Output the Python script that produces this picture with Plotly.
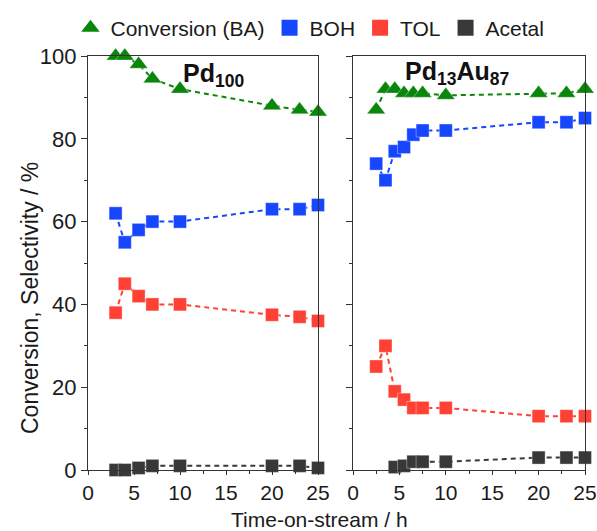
import plotly.graph_objects as go

# ---- data ----
t_pd100 = [3, 4, 5.5, 7, 10, 20, 23, 25]
conv_pd100 = [100, 100, 98, 94.5, 92, 88, 87, 86.5]
boh_pd100 = [62, 55, 58, 60, 60, 63, 63, 64]
tol_pd100 = [38, 45, 42, 40, 40, 37.5, 37, 36]
acetal_pd100 = [0, 0, 0.5, 1, 1, 1, 1, 0.5]

t_pdau = [2.5, 3.5, 4.5, 5.5, 6.5, 7.5, 10, 20, 23, 25]
conv_pdau = [87, 92, 92, 91, 91, 91, 90.5, 91, 91, 92]
boh_pdau = [74, 70, 77, 78, 81, 82, 82, 84, 84, 85]
tol_pdau = [25, 30, 19, 17, 15, 15, 15, 13, 13, 13]
acetal_pdau = [None, None, 0.7, 1, 2, 2, 2, 3, 3, 3]

series_names = ["Conversion (BA)", "BOH", "TOL", "Acetal"]
colors = ["#0a860a", "#1746ff", "#ff4034", "#383838"]
symbols = ["triangle-up", "square", "square", "square"]
panel_labels = ["<b>Pd<sub>100</sub></b>", "<b>Pd<sub>13</sub>Au<sub>87</sub></b>"]
x_ticks = [0, 5, 10, 15, 20, 25]
y_ticks = [0, 20, 40, 60, 80, 100]

W, H = 597, 531
FONT = "Liberation Sans, Arial, sans-serif"
fig = go.Figure()

panels = [
    (t_pd100, [conv_pd100, boh_pd100, tol_pd100, acetal_pd100], "x", "y"),
    (t_pdau, [conv_pdau, boh_pdau, tol_pdau, acetal_pdau], "x2", "y2"),
]
for t, ys, xa, ya in panels:
    for name, y, c, s in zip(series_names, ys, colors, symbols):
        fig.add_trace(go.Scatter(
            x=t, y=y, mode="lines+markers", xaxis=xa, yaxis=ya,
            line=dict(color=c, width=2, dash="5px,4px"),
            marker=dict(symbol=s, size=16 if s == "triangle-up" else 13, color=c,
                        line=dict(width=0.6, color="rgba(255,255,255,0.6)")),
            showlegend=False, cliponaxis=False, connectgaps=False, name=name))

# legend-only entries
for name, c, s in zip(series_names, colors, symbols):
    fig.add_trace(go.Scatter(
        x=[None], y=[None], mode="markers", name=name,
        marker=dict(symbol=s, size=20 if s == "triangle-up" else 18, color=c)))

def px_x(p):
    return p / W

def px_y(p):
    return 1 - p / H

axis_common = dict(
    range=[0, 25], tickvals=x_ticks, ticks="outside", ticklen=4, tickwidth=1.2,
    tickcolor="#333", showline=True, linecolor="#333", linewidth=1.3,
    mirror=True, showgrid=False, zeroline=False, automargin=False,
    tickfont=dict(family=FONT, size=21, color="#1a1a1a"),
    minor=dict(dtick=2.5, ticks="outside", ticklen=3, tickcolor="#333", tickwidth=1),
)
yaxis_common = dict(
    range=[0, 100], tickvals=y_ticks, ticks="outside", ticklen=6, tickwidth=1.2,
    tickcolor="#333", showline=True, linecolor="#333", linewidth=1.3,
    mirror=True, showgrid=False, zeroline=False, automargin=False,
    tickfont=dict(family=FONT, size=22, color="#1a1a1a"),
    minor=dict(dtick=10, ticks="outside", ticklen=3, tickcolor="#333", tickwidth=1),
)

fig.update_layout(
    width=W, height=H,
    margin=dict(l=0, r=0, t=0, b=0, autoexpand=False),
    paper_bgcolor="white", plot_bgcolor="white",
    font=dict(family=FONT, color="#1a1a1a"),
    xaxis=dict(domain=[px_x(88), px_x(318)], anchor="y", **axis_common),
    xaxis2=dict(domain=[px_x(353), px_x(585)], anchor="y2", **axis_common),
    yaxis=dict(domain=[px_y(470), px_y(56)], anchor="x", **yaxis_common),
    yaxis2=dict(domain=[px_y(470), px_y(56)], anchor="x2", showticklabels=False,
                **yaxis_common),
    legend=dict(orientation="h", x=px_x(310), xanchor="center", y=px_y(28),
                yanchor="middle", font=dict(family=FONT, size=21, color="#1a1a1a"),
                itemwidth=30, tracegroupgap=0, bgcolor="rgba(0,0,0,0)"),
    showlegend=True,
)

fig.add_annotation(text="Conversion, Selectivity / %", xref="paper", yref="paper",
                   x=px_x(30), y=px_y(298), textangle=-90, showarrow=False,
                   xanchor="center", yanchor="middle",
                   font=dict(family=FONT, size=23, color="#1a1a1a"))
fig.add_annotation(text="Time-on-stream / h", xref="paper", yref="paper",
                   x=px_x(319), y=px_y(519), showarrow=False,
                   xanchor="center", yanchor="middle", borderpad=0,
                   font=dict(family=FONT, size=21, color="#1a1a1a"))
fig.add_annotation(text=panel_labels[0], xref="x", yref="y", x=10.1, y=95.5,
                   xanchor="left", yanchor="middle", showarrow=False,
                   font=dict(family=FONT, size=25, color="#111"))
fig.add_annotation(text=panel_labels[1], xref="x2", yref="y2", x=5.4, y=96,
                   xanchor="left", yanchor="middle", showarrow=False,
                   font=dict(family=FONT, size=25, color="#111"))

fig.write_html("out.html", config={"displayModeBar": False},
               post_script="document.body.style.margin='0';document.body.style.overflow='hidden';")
